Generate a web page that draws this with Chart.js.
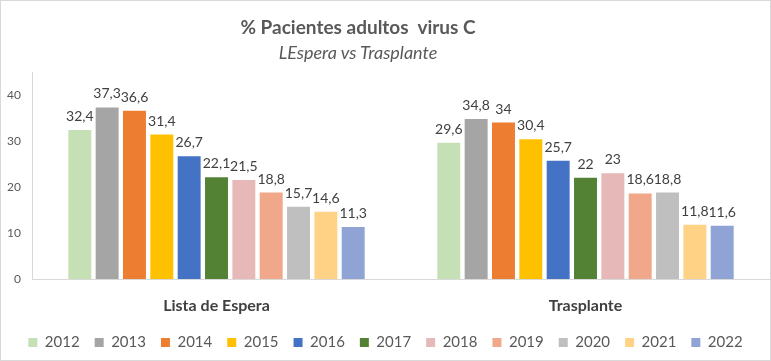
<!DOCTYPE html>
<html>
<head>
<meta charset="utf-8">
<script src="https://cdn.jsdelivr.net/npm/chart.js@4"></script>
<style>
  body { margin: 0; background: #fff; }
  #wrap {
    position: relative;
    width: 771px; height: 361px;
    box-sizing: border-box;
    border: 1px solid #d9d9d9;
    font-family: Lato, "Open Sans", sans-serif;
  }
  #title, #subtitle {
    position: absolute; left: 0; width: 714px;
    text-align: center; color: #595959; white-space: pre;
  }
  #title { top: 14px; font-size: 19px; font-weight: bold; }
  #subtitle { top: 40px; font-size: 18px; font-style: italic; }
  canvas { position: absolute; left: 0; top: 0; }
</style>
</head>
<body>
<div id="wrap">
  <canvas id="chart" width="769" height="359"></canvas>
  <div id="title">% Pacientes adultos  virus C</div>
  <div id="subtitle">LEspera vs Trasplante</div>
</div>
<script>
const categories = ["Lista de Espera", "Trasplante"];
const years = ["2012", "2013", "2014", "2015", "2016", "2017", "2018", "2019", "2020", "2021", "2022"];
const listaEspera = [32.4, 37.3, 36.6, 31.4, 26.7, 22.1, 21.5, 18.8, 15.7, 14.6, 11.3];
const trasplante = [29.6, 34.8, 34, 30.4, 25.7, 22, 23, 18.6, 18.8, 11.8, 11.6];
const colors = ["#c5e0b4", "#a5a5a5", "#ed7d31", "#ffc000", "#4472c4", "#548235",
                "#e6b9b8", "#f1a78a", "#bfbfbf", "#ffd286", "#8fa3d4"];

// value labels above each bar, comma decimal like the original
const valueLabels = {
    id: "valueLabels",
    afterDatasetsDraw(chart) {
        const ctx = chart.ctx;
        ctx.save();
        ctx.font = "14px Lato";
        ctx.fillStyle = "#404040";
        ctx.textAlign = "center";
        ctx.textBaseline = "alphabetic";
        chart.data.datasets.forEach((ds, i) => {
            chart.getDatasetMeta(i).data.forEach((bar, j) => {
                const txt = String(ds.data[j]).replace(".", ",");
                ctx.fillText(txt, bar.x, bar.y - 9);
            });
        });
        ctx.restore();
    }
};

const datasets = years.map((y, i) => ({
    label: y,
    data: [listaEspera[i], trasplante[i]],
    backgroundColor: colors[i],
    barPercentage: 0.84,
    categoryPercentage: 0.815
}));

new Chart(document.getElementById("chart"), {
    type: "bar",
    data: { labels: categories, datasets },
    plugins: [valueLabels],
    options: {
        responsive: false,
        animation: false,
        layout: { padding: { top: 71, left: 0, right: 0, bottom: 0 } },
        plugins: {
            tooltip: { enabled: false },
            legend: {
                position: "bottom",
                labels: {
                    boxWidth: 9,
                    boxHeight: 9,
                    padding: 15,
                    color: "#595959",
                    font: { family: "Lato", size: 15 }
                }
            }
        },
        scales: {
            x: {
                grid: { display: false, drawTicks: false },
                border: { display: true, color: "#d9d9d9" },
                ticks: {
                    color: "#404040",
                    padding: 17,
                    font: { family: "Lato", size: 16, weight: "bold" }
                },
                afterFit(scale) { scale.height = 41; }
            },
            y: {
                min: 0,
                max: 45,
                grid: { display: false, drawTicks: false },
                border: { display: true, color: "#d9d9d9" },
                ticks: {
                    stepSize: 10,
                    color: "#595959",
                    padding: 11,
                    font: { family: "Lato", size: 12 }
                },
                afterBuildTicks(scale) {
                    scale.ticks = scale.ticks.filter(t => t.value % 10 === 0);
                },
                afterFit(scale) { scale.width = 31; }
            }
        }
    }
});
</script>
</body>
</html>
